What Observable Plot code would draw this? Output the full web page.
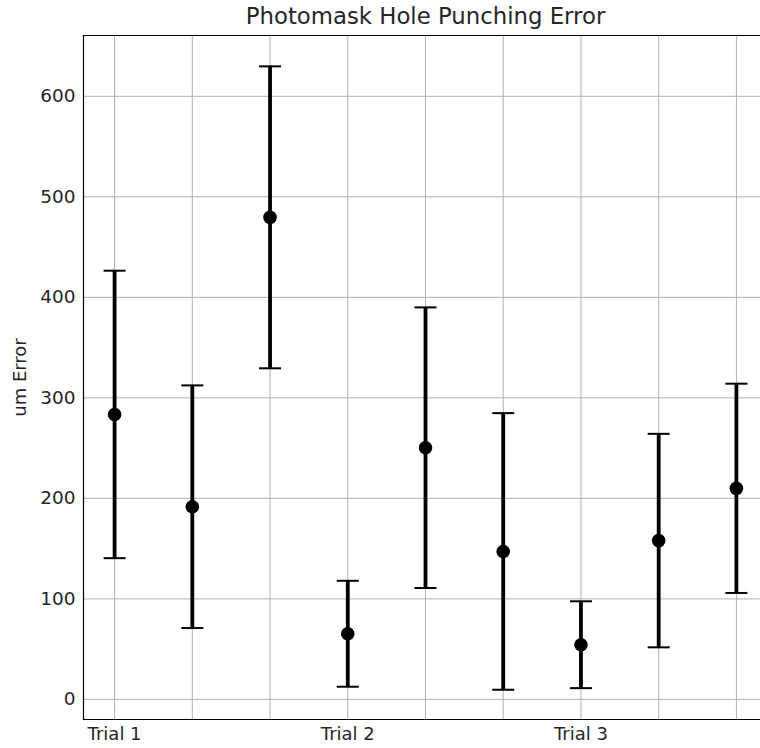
<!DOCTYPE html>
<html>
<head>
<meta charset="utf-8">
<script src="https://cdn.jsdelivr.net/npm/d3@7"></script>
<script src="https://cdn.jsdelivr.net/npm/@observablehq/plot@0.6"></script>
<style>
  html, body { margin: 0; padding: 0; background: #fff; overflow: hidden; }
  #wrap { width: 760px; height: 748px; overflow: hidden; position: relative; }
  #wrap svg { display: block; max-width: none !important; height: 748px !important; }
</style>
</head>
<body>
<div id="wrap"></div>
<script>
// Data
const positions = [1, 2, 3, 4, 5, 6, 7, 8, 9];
const means  = [283.5, 191.7, 479.6, 65.3, 250.4, 147.2, 54.4, 158.0, 210.0];
const errors = [143.0, 120.7, 150.2, 52.7, 139.6, 137.6, 43.2, 106.2, 104.1];
const xTickValues = [1, 4, 7];
const xTickLabels = ["Trial 1", "Trial 2", "Trial 3"];
const yTickValues = [0, 100, 200, 300, 400, 500, 600];
const titleText = "Photomask Hole Punching Error";
const yLabel = "um Error";

const data = positions.map((x, i) => ({
  x, mean: means[i], lo: means[i] - errors[i], hi: means[i] + errors[i]
}));

const capSymbol = {
  draw(context) {
    context.moveTo(-11, 0);
    context.lineTo(11, 0);
  }
};

const font = "DejaVu Sans, sans-serif";
const textColor = "#262626";
const xDomain = [0.6, 9.4];
const yDomain = [-20, 660.5];

const chart = Plot.plot({
  width: 767,
  height: 748,
  marginLeft: 83,
  marginRight: 0,
  marginTop: 35,
  marginBottom: 29,
  style: { fontFamily: font, color: textColor, background: "#fff" },
  x: { domain: xDomain },
  y: { domain: yDomain },
  marks: [
    Plot.ruleX(positions, { x: d => d, stroke: "#b0b0b0", strokeWidth: 1, strokeOpacity: 1 }),
    Plot.ruleY(yTickValues, { y: d => d, stroke: "#b0b0b0", strokeWidth: 1, strokeOpacity: 1 }),
    Plot.frame({ anchor: "left", stroke: "#000", strokeWidth: 1.2 }),
    Plot.frame({ anchor: "top", stroke: "#000", strokeWidth: 1.2 }),
    Plot.frame({ anchor: "bottom", stroke: "#000", strokeWidth: 1.2 }),
    Plot.axisX({ ticks: xTickValues, tickFormat: d => xTickLabels[xTickValues.indexOf(d)], tickSize: 0, tickPadding: 8, fontSize: 18, fill: textColor, label: null }),
    Plot.axisY({ ticks: yTickValues, tickSize: 0, tickPadding: 8, fontSize: 18.5, fill: textColor, label: null }),
    Plot.ruleX(data, { x: "x", y1: "lo", y2: "hi", stroke: "#000", strokeWidth: 3.8 }),
    Plot.dot(data, { x: "x", y: "hi", symbol: capSymbol, stroke: "#000", strokeWidth: 2, fill: "none" }),
    Plot.dot(data, { x: "x", y: "lo", symbol: capSymbol, stroke: "#000", strokeWidth: 2, fill: "none" }),
    Plot.dot(data, { x: "x", y: "mean", r: 6.8, fill: "#000", stroke: "none" }),
    Plot.text([titleText], { x: () => (xDomain[0] + xDomain[1]) / 2, frameAnchor: "top", lineAnchor: "middle", dy: -19, text: d => d, fontSize: 22.8, fill: textColor }),
    Plot.text([yLabel], { frameAnchor: "left", textAnchor: "middle", lineAnchor: "middle", dx: -63, rotate: -90, text: d => d, fontSize: 18, fill: textColor })
  ]
});
document.getElementById("wrap").appendChild(chart);
</script>
</body>
</html>
